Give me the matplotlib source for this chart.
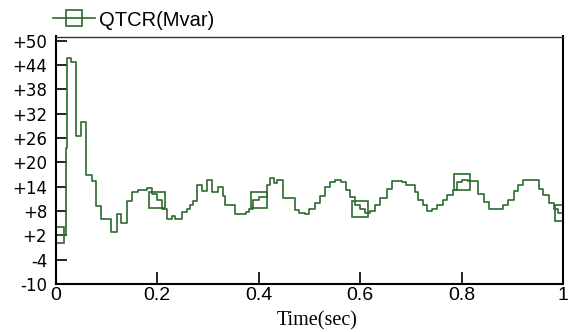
import numpy as np
import matplotlib.pyplot as plt

# czas [s] i QTCR [Mvar] (przebieg schodkowy)
czas = [0.000, 0.0207, 0.0227, 0.0300, 0.0404, 0.0497, 0.0595, 0.0713, 0.0792, 0.0891,
        0.1094, 0.1218, 0.1285, 0.1403, 0.1501, 0.1632, 0.1797, 0.1896, 0.1994, 0.2093,
        0.2191, 0.2290, 0.2355, 0.2487, 0.2585, 0.2650, 0.2715, 0.2794, 0.2893, 0.2991,
        0.3090, 0.3208, 0.3295, 0.3340, 0.3537, 0.3754, 0.3819, 0.3898, 0.4016, 0.4162,
        0.4227, 0.4305, 0.4370, 0.4489, 0.4719, 0.4804, 0.4916, 0.5001, 0.5113, 0.5212,
        0.5310, 0.5409, 0.5507, 0.5620, 0.5724, 0.5803, 0.5901, 0.6000, 0.6099, 0.6197,
        0.6296, 0.6394, 0.6526, 0.6625, 0.6822, 0.6906, 0.7084, 0.7149, 0.7236, 0.7326,
        0.7413, 0.7512, 0.7630, 0.7720, 0.7827, 0.7905, 0.8004, 0.8134, 0.8331, 0.8443,
        0.8548, 0.8824, 0.8922, 0.9040, 0.9119, 0.9218, 0.9533, 0.9612, 0.9730, 0.9823,
        0.9907, 1.000]
qtcr = [2.0, 23.5, 45.8, 44.6, 26.4, 29.9, 16.8, 15.5, 9.2, 6.0,
        2.9, 7.2, 5.1, 10.5, 12.6, 13.1, 13.6, 12.1, 10.6, 8.6,
        5.9, 6.7, 5.9, 7.8, 8.6, 9.4, 10.5, 14.3, 12.9, 15.7,
        12.7, 13.9, 11.6, 9.4, 7.2, 7.8, 8.6, 10.8, 11.5, 14.3,
        16.2, 14.9, 15.7, 11.1, 8.2, 7.4, 7.2, 8.6, 10.0, 11.6,
        13.9, 15.1, 15.6, 15.1, 13.1, 11.5, 9.4, 8.4, 7.5, 8.0,
        9.4, 11.1, 13.3, 15.4, 15.1, 14.3, 12.7, 10.8, 9.4, 8.0,
        8.6, 9.4, 10.6, 11.9, 13.1, 15.1, 15.6, 15.3, 12.3, 10.2,
        8.4, 9.4, 10.8, 12.9, 14.3, 15.7, 13.5, 11.9, 10.0, 8.6,
        7.5, 7.5]

znaczniki_t = [0.0, 0.2, 0.4, 0.6, 0.8, 1.0]
xticks = [0.0, 0.2, 0.4, 0.6, 0.8, 1.0]
xlabels = ['0', '0.2', '0.4', '0.6', '0.8', '1']
yticks = [-10, -4, 2, 8, 14, 20, 26, 32, 38, 44, 50]
ylabels = ['-10', '-4', '+2', '+8', '+14', '+20', '+26', '+32', '+38', '+44', '+50']

kolor = '#2c6a2c'

t = np.array(czas)
v = np.array(qtcr)
idx = np.searchsorted(t, znaczniki_t, side='right') - 1
znaczniki_v = v[np.clip(idx, 0, len(v) - 1)]

fig = plt.figure(figsize=(5.71, 3.32), dpi=100)
ax = fig.add_axes([55.5 / 571, 1 - 284 / 332, 507.5 / 571, (284 - 36.5) / 332])

ax.plot(t, v, drawstyle='steps-post', color=kolor, lw=1.2)
ax.plot(znaczniki_t, znaczniki_v, ls='none', marker='s', ms=12, mfc='none',
        mec=kolor, mew=1.2)

# tylko do legendy
ax.plot([], [], color=kolor, lw=1.2, marker='s', ms=11, mfc='none', mec=kolor,
        mew=1.2, label='QTCR(Mvar)')

ax.set_xlim(0, 1)
ax.set_ylim(-10, 51)
ax.set_xticks(xticks)
ax.set_xticklabels(xlabels, family='Liberation Sans', fontsize=14)
ax.set_yticks(yticks)
ax.set_yticklabels(ylabels, family='DejaVu Sans', fontsize=12)
ax.tick_params(axis='y', direction='in', length=8, width=1.2, pad=6)
ax.tick_params(axis='x', direction='in', length=8.5, width=1.2, pad=2)
for s in ['left', 'bottom', 'right']:
    ax.spines[s].set_linewidth(1.5)
ax.spines['top'].set_linewidth(1.0)
ax.spines['top'].set_color('#333333')

fig.text(317.5 / 571, 1 - 321 / 332, 'Time(sec)', family='Liberation Serif',
         fontsize=14.5, ha='center', va='center')

leg = fig.legend(handles=ax.get_lines()[-1:], loc='center left',
                 bbox_to_anchor=(53 / 571, 1 - 20 / 332), frameon=False,
                 borderpad=0, borderaxespad=0, handlelength=2.1,
                 handletextpad=0.2, numpoints=1,
                 prop={'family': 'Liberation Sans', 'size': 14.5})

fig.savefig('out.png', dpi=100)
